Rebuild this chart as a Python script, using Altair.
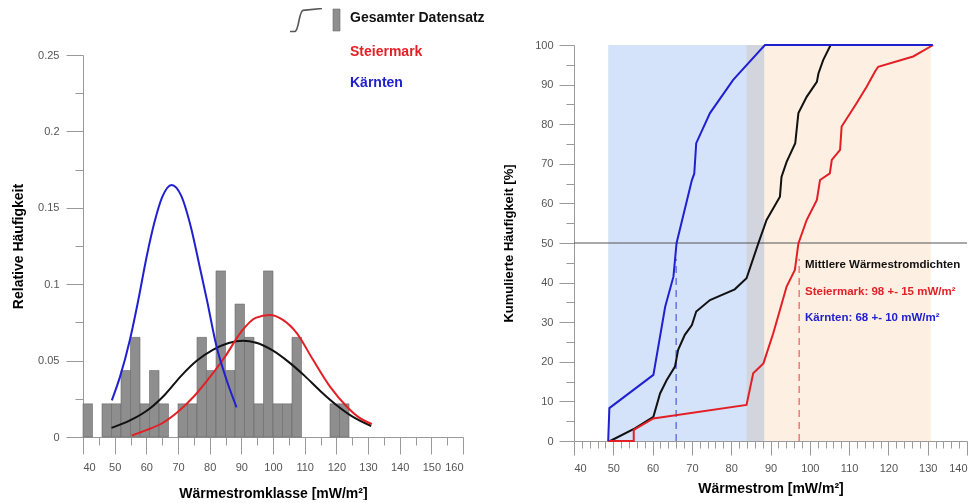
import altair as alt
import pandas as pd

FONT = "Liberation Sans"

# ---------------- data: left panel (histogram + normal curves) ----------------
bin_start = [40, 46, 49, 52, 55, 58, 61, 64, 70, 73, 76, 79, 82, 85, 88, 91, 94, 97, 100, 103, 106, 118, 121]
bin_width = 3
rel_freq = [0.0217, 0.0217, 0.0217, 0.0435, 0.0652, 0.0217, 0.0435, 0.0217, 0.0217, 0.0217, 0.0652, 0.0435,
            0.1087, 0.0435, 0.087, 0.0652, 0.0217, 0.1087, 0.0217, 0.0217, 0.0652, 0.0217, 0.0217]

all_curve_x = [49, 55, 61, 66, 71, 76, 81, 86, 90.5, 95, 100, 105, 110, 115, 120, 125, 131]
all_curve_y = [0.006, 0.011, 0.0185, 0.028, 0.040, 0.050, 0.057, 0.0615, 0.063, 0.0615, 0.0565, 0.049, 0.040,
               0.030, 0.021, 0.0135, 0.0072]

st_curve_x = [55.4, 60, 65, 70, 75, 80, 85, 90, 94.5, 99, 103, 107.5, 112.5, 118, 123.5, 127, 131.2]
st_curve_y = [0.001, 0.0045, 0.009, 0.0165, 0.0265, 0.039, 0.053, 0.069, 0.078, 0.0798, 0.0768, 0.068, 0.051,
              0.033, 0.0195, 0.013, 0.0085]

kt_curve_x = [49.1, 51.7, 54.8, 57.5, 60, 62.5, 65, 68, 71, 74, 77, 79.1, 82.2, 85.4, 88.5]
kt_curve_y = [0.024, 0.0395, 0.0635, 0.09, 0.117, 0.14, 0.157, 0.165, 0.158, 0.138, 0.11, 0.09, 0.059, 0.037,
              0.0194]

legend_labels = ["Gesamter Datensatz", "Steiermark", "Kärnten"]

# ---------------- data: right panel (cumulative frequencies) ----------------
cdf_all_x = [49.2, 55.5, 60.2, 61.9, 63.6, 65.7, 66.5, 68.2, 70, 71.1, 74.6, 80.9, 83.9, 86.9, 89, 92.4, 92.8,
             94.1, 96.3, 97.1, 99.2, 101.8, 102.2, 103.4, 105.3]
cdf_all_y = [0, 3.2, 6.1, 12, 15.4, 18.8, 23, 26.8, 29.3, 32.7, 35.6, 38.3, 41.1, 49.9, 55.8, 61.7, 66.7, 70.5,
             75.2, 82.8, 86.9, 90.7, 92.8, 96.2, 100]

cdf_st_x = [48.7, 55.2, 55.2, 60.2, 83.9, 85.6, 88.2, 90.7, 92.4, 94.1, 96.2, 97.1, 99.2, 101.8, 102.6, 105.1,
            105.6, 107.7, 108.1, 111.9, 114.5, 116.6, 117.4, 126.3, 131.4]
cdf_st_y = [0, 0, 2.8, 5.7, 9.1, 17.1, 19.6, 27.2, 33.1, 39, 43.2, 49.9, 55.8, 60.9, 65.9, 67.6, 71, 73.5, 79.4,
            85.3, 89.5, 93.3, 94.5, 97.1, 100]

cdf_kt_x = [48.7, 49.0, 60.2, 63.2, 65.3, 66.1, 70, 70.6, 71.1, 74.6, 80.5, 88.6, 131.3]
cdf_kt_y = [0, 8.3, 16.7, 33.9, 41.5, 50, 65.9, 67.5, 75.2, 82.8, 91.2, 100, 100]

kt_range = [48.7, 88.4]
st_range = [83.9, 130.8]
median_level = [50]
median_x = [66.0, 97.3]
median_group = ["Kärnten", "Steiermark"]
median_top = 46
annot_lines = ["Mittlere Wärmestromdichten", "Steiermark: 98 +- 15 mW/m²", "Kärnten: 68 +- 10 mW/m²"]

# ---------------- colours ----------------
BLACK = "#111111"
RED = "#e31f26"
BLUE = "#2020d0"
AX = "#9a9a9a"
LAB = "#555555"

# ================= LEFT PANEL =================
hist_df = pd.DataFrame({"x0": bin_start, "x1": [b + bin_width for b in bin_start], "f": rel_freq,
                        "z": [0] * len(bin_start)})
xs_l = alt.Scale(domain=[40, 160], nice=False, zero=False, padding=0)
ys_l = alt.Scale(domain=[0, 0.25], range=[392, 10], nice=False, padding=0)

major_x_l = alt.Axis(values=list(range(40, 161, 10)), tickSize=17, labelPadding=7, offset=-4, orient="bottom",
                     title="Wärmestromklasse [mW/m²]", titleFontSize=14, titlePadding=14, grid=False)
major_y_l = alt.Axis(values=[0, 0.05, 0.1, 0.15, 0.2, 0.25], format="~g", tickSize=17, labelPadding=7,
                     orient="left", title="Relative Häufigkeit", titleFontSize=14, titlePadding=12, grid=False)
minor_x_l = alt.Axis(values=list(range(45, 160, 10)), tickSize=8, labels=False, domain=False, offset=-4,
                     orient="bottom", grid=False)
minor_y_l = alt.Axis(values=[0.025, 0.075, 0.125, 0.175, 0.225], tickSize=8, labels=False, domain=False,
                     orient="left", grid=False)

bars = alt.Chart(hist_df).mark_rect(fill="#8e8e8e", stroke="#6a6a6a", strokeWidth=0.6).encode(
    x=alt.X("x0:Q", scale=xs_l, axis=major_x_l),
    x2="x1:Q",
    y=alt.Y("f:Q", scale=ys_l, axis=major_y_l),
    y2="z:Q",
)
minor_l = alt.Chart(hist_df).mark_point(opacity=0).encode(
    x=alt.X("x0:Q", scale=xs_l, axis=minor_x_l, title=None),
    y=alt.Y("f:Q", scale=ys_l, axis=minor_y_l, title=None),
)


def curve(xv, yv, color, xs, ys, interp):
    df = pd.DataFrame({"x": xv, "y": yv, "i": range(len(xv))})
    return alt.Chart(df).mark_line(color=color, strokeWidth=2, interpolate=interp).encode(
        x=alt.X("x:Q", scale=xs, axis=None),
        y=alt.Y("y:Q", scale=ys, axis=None),
        order="i:Q",
    )


c_all = curve(all_curve_x, all_curve_y, BLACK, xs_l, ys_l, "monotone")
c_st = curve(st_curve_x, st_curve_y, RED, xs_l, ys_l, "monotone")
c_kt = curve(kt_curve_x, kt_curve_y, BLUE, xs_l, ys_l, "monotone")

one = alt.Data(values=[{"a": 1}])
leg_symbol = alt.Chart(one).mark_point(
    shape="M -1 0.72 L -0.7 0.72 C -0.45 0.72 -0.45 -0.5 -0.2 -0.6 L 1 -0.72",
    filled=False, stroke=BLACK, strokeWidth=1.6, size=1024,
).encode(x=alt.value(223), y=alt.value(-25))
leg_bar = alt.Chart(one).mark_rect(fill="#8e8e8e", stroke="#6a6a6a", strokeWidth=0.6).encode(
    x=alt.value(250), x2=alt.value(257), y=alt.value(-36), y2=alt.value(-14))


def legend_text(label, color, ypix):
    return alt.Chart(pd.DataFrame({"t": [label]})).mark_text(
        align="left", baseline="middle", font=FONT, fontSize=14, fontWeight="bold", color=color
    ).encode(x=alt.value(267), y=alt.value(ypix), text="t:N")


left = alt.layer(
    bars, minor_l, c_all, c_st, c_kt, leg_symbol, leg_bar,
    legend_text(legend_labels[0], BLACK, -27),
    legend_text(legend_labels[1], RED, 7),
    legend_text(legend_labels[2], BLUE, 38),
).resolve_axis(x="independent", y="independent").properties(width=380, height=396)

# ================= RIGHT PANEL =================
xs_r = alt.Scale(domain=[40, 140], nice=False, zero=False, padding=0)
ys_r = alt.Scale(domain=[0, 100], nice=False, padding=0)

major_x_r = alt.Axis(values=list(range(40, 141, 10)), tickSize=14, labelPadding=7, orient="bottom",
                     title="Wärmestrom [mW/m²]", titleFontSize=14, titlePadding=8, grid=False)
major_y_r = alt.Axis(values=list(range(0, 101, 10)), tickSize=15, labelPadding=6, orient="left",
                     title="Kumulierte Häufigkeit [%]", titleFontSize=13, titlePadding=19, grid=False)
minor_x_r = alt.Axis(values=[v for v in range(42, 140, 2) if v % 10 != 0], tickSize=7, labels=False,
                     domain=False, orient="bottom", grid=False)
minor_y_r = alt.Axis(values=list(range(5, 100, 10)), tickSize=8, labels=False, domain=False, orient="left",
                     grid=False)

rng_df = pd.DataFrame({"a": [kt_range[0], st_range[0]], "b": [kt_range[1], st_range[1]],
                       "lo": [0, 0], "hi": [100, 100]})
rect_kt = alt.Chart(rng_df.iloc[[0]]).mark_rect(fill="#d5e3fa").encode(
    x=alt.X("a:Q", scale=xs_r, axis=major_x_r), x2="b:Q",
    y=alt.Y("lo:Q", scale=ys_r, axis=major_y_r), y2="hi:Q")
rect_st = alt.Chart(rng_df.iloc[[1]]).mark_rect(fill="#fdf0e3", blend="multiply").encode(
    x=alt.X("a:Q", scale=xs_r, axis=None), x2="b:Q",
    y=alt.Y("lo:Q", scale=ys_r, axis=None), y2="hi:Q")
minor_r = alt.Chart(rng_df).mark_point(opacity=0).encode(
    x=alt.X("a:Q", scale=xs_r, axis=minor_x_r, title=None),
    y=alt.Y("lo:Q", scale=ys_r, axis=minor_y_r, title=None),
)
hline = alt.Chart(pd.DataFrame({"y": median_level, "x0": [40], "x1": [140]})).mark_rule(
    color="#555555", strokeWidth=1).encode(
    x=alt.X("x0:Q", scale=xs_r, axis=None), x2="x1:Q", y=alt.Y("y:Q", scale=ys_r, axis=None))
med_df = pd.DataFrame({"x": median_x, "g": median_group, "lo": [0, 0], "hi": [median_top, median_top]})
med_lines = alt.Chart(med_df).mark_rule(strokeDash=[7, 5], strokeWidth=1.6, opacity=0.75).encode(
    x=alt.X("x:Q", scale=xs_r, axis=None),
    y=alt.Y("lo:Q", scale=ys_r, axis=None), y2="hi:Q",
    color=alt.Color("g:N", scale=alt.Scale(domain=["Kärnten", "Steiermark"], range=["#4a5ae0", "#f05a5a"]),
                    legend=None),
)

cd_all = curve(cdf_all_x, cdf_all_y, BLACK, xs_r, ys_r, "linear")
cd_st = curve(cdf_st_x, cdf_st_y, RED, xs_r, ys_r, "linear")
cd_kt = curve(cdf_kt_x, cdf_kt_y, BLUE, xs_r, ys_r, "linear")


def annot(label, color, ypix):
    return alt.Chart(pd.DataFrame({"t": [label]})).mark_text(
        align="left", baseline="middle", font=FONT, fontSize=11.5, fontWeight="bold", color=color
    ).encode(x=alt.value(231), y=alt.value(ypix), text="t:N")


right = alt.layer(
    rect_kt, rect_st, minor_r, hline, med_lines, cd_all, cd_st, cd_kt,
    annot(annot_lines[0], BLACK, 220),
    annot(annot_lines[1], RED, 247),
    annot(annot_lines[2], BLUE, 273),
).resolve_axis(x="independent", y="independent").properties(width=393, height=396)

chart = alt.hconcat(left, right, spacing=17).properties(
    padding={"left": 3, "top": -3, "right": 0, "bottom": 0}
).configure(font=FONT).configure_view(strokeWidth=0, stroke="transparent").configure_axis(
    labelFont=FONT, labelFontSize=11, labelColor=LAB, titleFont=FONT, titleFontWeight="bold",
    titleColor="#000000", domainColor=AX, tickColor=AX, domainWidth=1, tickWidth=1
)

chart.save("out.html", embed_options={"renderer": "svg", "actions": False})
